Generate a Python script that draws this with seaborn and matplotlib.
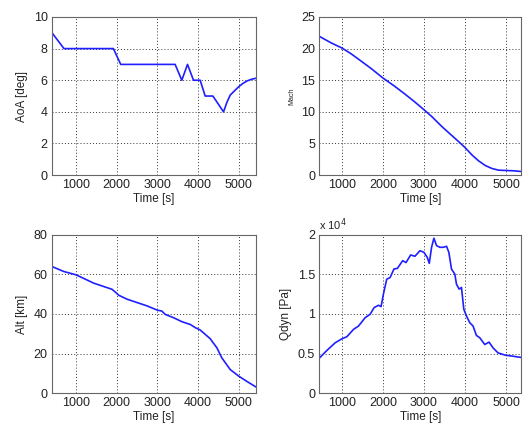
import matplotlib
matplotlib.use("Agg")
import matplotlib.pyplot as plt
import seaborn as sns
import pandas as pd
from matplotlib.ticker import FuncFormatter

# ---- data ----
aoa_t = [410, 705, 1918, 2098, 3434, 3598, 3738, 3885, 4049, 4172, 4361, 4623,
         4705, 4787, 4900, 5000, 5100, 5205, 5300, 5425]
aoa_v = [9.0, 8.0, 8.0, 7.0, 7.0, 6.0, 7.0, 6.0, 6.0, 5.0, 5.0, 4.0,
         4.6, 5.06, 5.35, 5.6, 5.8, 5.96, 6.05, 6.13]

mach_t = [447, 739, 1000, 1229, 1473, 1718, 2000, 2290, 2535, 2780, 3000,
          3188, 3433, 3678, 3841, 4000, 4167, 4331, 4494, 4657, 4820, 5000,
          5188, 5374]
mach_v = [21.95, 20.9, 20.1, 19.16, 18.0, 16.83, 15.35, 14.03, 12.82, 11.55,
          10.34, 9.28, 7.7, 6.27, 5.32, 4.37, 3.21, 2.26, 1.52, 1.05, 0.78,
          0.73, 0.68, 0.57]

alt_t = [410, 697, 1000, 1188, 1433, 1679, 1883, 1981, 2047, 2251, 2496, 2742,
         3000, 3106, 3190, 3396, 3600, 3805, 3927, 4050, 4295, 4459, 4581,
         4786, 5000, 5195, 5425]
alt_v = [64.0, 61.5, 59.8, 58.0, 55.6, 53.9, 52.5, 50.8, 49.5, 47.5, 45.8,
         44.1, 41.9, 41.5, 39.8, 38.1, 36.1, 34.7, 33.1, 31.9, 27.5, 22.9,
         17.8, 11.9, 8.5, 5.9, 3.0]

q_t = [447, 636, 838, 1000, 1121, 1283, 1405, 1567, 1688, 1785, 1891, 1955,
       2012, 2093, 2174, 2271, 2352, 2482, 2563, 2676, 2781, 2903, 3000, 3081,
       3130, 3186, 3243, 3308, 3389, 3470, 3551, 3607, 3672, 3753, 3793, 3858,
       3915, 3972, 4036, 4117, 4198, 4279, 4360, 4482, 4587, 4684, 4806, 4984,
       5170, 5332, 5374]
q_v = [4400, 5400, 6360, 6860, 7120, 8050, 8470, 9530, 9960, 10800, 11100,
       10930, 12500, 14400, 14600, 15700, 15760, 16740, 16500, 17460, 17300,
       18000, 17800, 17160, 16400, 18430, 19580, 18640, 18430, 18430, 18560,
       17800, 15680, 15040, 13770, 13140, 13350, 10600, 9750, 8900, 8470,
       7290, 7000, 6140, 6440, 5720, 5080, 4790, 4660, 4530, 4500]

xticks = [1000, 2000, 3000, 4000, 5000]

sns.set_theme(style="white")
plt.rcParams["font.family"] = ["Liberation Sans", "DejaVu Sans"]

fig = plt.figure(figsize=(5.25, 4.24), dpi=100)
pos = {
    "aoa": [0.099, 0.587, 0.389, 0.373],
    "mach": [0.608, 0.587, 0.385, 0.373],
    "alt": [0.099, 0.073, 0.389, 0.373],
    "q": [0.608, 0.073, 0.385, 0.373],
}
line_color = "#1f1fff"

def make(key, t, v, ylabel, ylim, yticks, xlim, ylabel_size=8.5):
    ax = fig.add_axes(pos[key])
    df = pd.DataFrame({"t": t, "v": v})
    sns.lineplot(data=df, x="t", y="v", ax=ax, color=line_color, lw=1.2,
                 sort=False, estimator=None)
    ax.set_xlim(*xlim)
    ax.set_ylim(*ylim)
    ax.set_xticks(xticks)
    ax.set_yticks(yticks)
    ax.grid(True, color="#333333", linestyle=(0, (1, 2.2)), linewidth=0.7)
    ax.tick_params(direction="in", length=3, width=0.6, labelsize=9,
                   colors="#222222", pad=3)
    for s in ax.spines.values():
        s.set_color("#666666")
        s.set_linewidth(0.8)
    ax.set_xlabel("Time [s]", fontsize=8.5, labelpad=1, color="#222222")
    ax.set_ylabel(ylabel, fontsize=ylabel_size, labelpad=4, color="#222222")
    return ax

make("aoa", aoa_t, aoa_v, "AoA [deg]", (0, 10), [0, 2, 4, 6, 8, 10], (410, 5425))
make("mach", mach_t, mach_v, "Mach", (0, 25), [0, 5, 10, 15, 20, 25], (447, 5374),
     ylabel_size=5)
make("alt", alt_t, alt_v, "Alt [km]", (0, 80), [0, 20, 40, 60, 80], (410, 5425))
axq = make("q", q_t, q_v, "Qdyn [Pa]", (0, 20000), [0, 5000, 10000, 15000, 20000],
           (447, 5374))
axq.yaxis.set_major_formatter(FuncFormatter(lambda y, p: "%g" % (y / 1e4)))
axq.text(0.0, 1.01, "x 10$^4$", transform=axq.transAxes, ha="left", va="bottom",
         fontsize=8, color="#222222")

fig.savefig("out.png", dpi=100)
